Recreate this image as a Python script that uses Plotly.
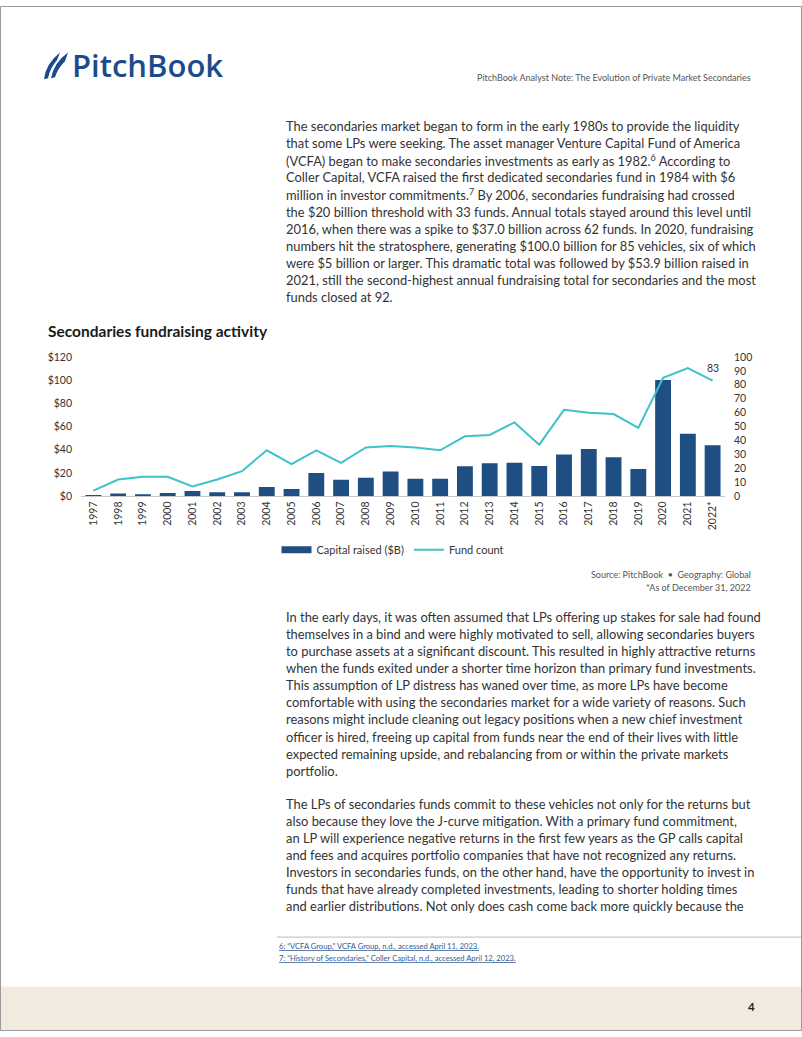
import plotly.graph_objects as go

W, H = 802, 1037

years = ["1997", "1998", "1999", "2000", "2001", "2002", "2003", "2004", "2005",
         "2006", "2007", "2008", "2009", "2010", "2011", "2012", "2013", "2014",
         "2015", "2016", "2017", "2018", "2019", "2020", "2021", "2022*"]
capital_raised = [0.6, 2.3, 1.7, 2.8, 4.5, 3.4, 3.4, 8.0, 6.2, 20.1, 14.2, 15.9,
                  21.3, 15.0, 15.0, 25.8, 28.4, 28.9, 26.1, 36.0, 40.6, 33.5,
                  23.5, 100.0, 53.9, 44.0]
fund_count = [4, 12, 14, 14, 7, 12, 18, 33, 23, 33, 24, 35, 36, 35, 33, 43, 44,
              53, 37, 62, 60, 59, 49, 85, 92, 83]

left_ticks = [0, 20, 40, 60, 80, 100, 120]
left_labels = ["$0", "$20", "$40", "$60", "$80", "$100", "$120"]
right_ticks = [0, 10, 20, 30, 40, 50, 60, 70, 80, 90, 100]

para1 = [
    "The secondaries market began to form in the early 1980s to provide the liquidity",
    "that some LPs were seeking. The asset manager Venture Capital Fund of America",
    "(VCFA) began to make secondaries investments as early as 1982.<sup>6</sup> According to",
    "Coller Capital, VCFA raised the first dedicated secondaries fund in 1984 with $6",
    "million in investor commitments.<sup>7</sup> By 2006, secondaries fundraising had crossed",
    "the $20 billion threshold with 33 funds. Annual totals stayed around this level until",
    "2016, when there was a spike to $37.0 billion across 62 funds. In 2020, fundraising",
    "numbers hit the stratosphere, generating $100.0 billion for 85 vehicles, six of which",
    "were $5 billion or larger. This dramatic total was followed by $53.9 billion raised in",
    "2021, still the second-highest annual fundraising total for secondaries and the most",
    "funds closed at 92.",
]
para2 = [
    "In the early days, it was often assumed that LPs offering up stakes for sale had found",
    "themselves in a bind and were highly motivated to sell, allowing secondaries buyers",
    "to purchase assets at a significant discount. This resulted in highly attractive returns",
    "when the funds exited under a shorter time horizon than primary fund investments.",
    "This assumption of LP distress has waned over time, as more LPs have become",
    "comfortable with using the secondaries market for a wide variety of reasons. Such",
    "reasons might include cleaning out legacy positions when a new chief investment",
    "officer is hired, freeing up capital from funds near the end of their lives with little",
    "expected remaining upside, and rebalancing from or within the private markets",
    "portfolio.",
]
para3 = [
    "The LPs of secondaries funds commit to these vehicles not only for the returns but",
    "also because they love the J-curve mitigation. With a primary fund commitment,",
    "an LP will experience negative returns in the first few years as the GP calls capital",
    "and fees and acquires portfolio companies that have not recognized any returns.",
    "Investors in secondaries funds, on the other hand, have the opportunity to invest in",
    "funds that have already completed investments, leading to shorter holding times",
    "and earlier distributions. Not only does cash come back more quickly because the",
]
footnotes = [
    "6: \u201cVCFA Group,\u201d VCFA Group, n.d., accessed April 11, 2023.",
    "7: \u201cHistory of Secondaries,\u201d Coller Capital, n.d., accessed April 12, 2023.",
]

BLUE = "#1f4e82"
TEAL = "#3fc3c6"
TXT = "#333333"
BODY_FONT = "Lato"


def px(x):
    return x / W


def py(y):
    return 1 - y / H


fig = go.Figure()
fig.add_trace(go.Bar(x=years, y=capital_raised, name="Capital raised ($B)",
                     marker=dict(color=BLUE, line=dict(width=0)), width=0.64,
                     yaxis="y", showlegend=False))
# legend-only entry so the key is drawn as a wide bar like the reference
fig.add_trace(go.Scatter(x=[None], y=[None], name="Capital raised ($B)", mode="lines",
                         line=dict(color=BLUE, width=7), yaxis="y"))
fig.add_trace(go.Scatter(x=years, y=fund_count, name="Fund count", mode="lines",
                         line=dict(color=TEAL, width=2), yaxis="y2"))

y_bottom, y_top = 496, 355
fig.update_layout(
    width=W, height=H,
    margin=dict(l=0, r=0, t=0, b=0),
    paper_bgcolor="white", plot_bgcolor="white",
    font=dict(family=BODY_FONT, color=TXT),
    showlegend=True,
    bargap=0.36,
    xaxis=dict(domain=[px(81), px(725)], type="category",
               tickangle=-90, tickfont=dict(size=10.5, color=TXT),
               showgrid=False, showline=True, linecolor="#c8c8c8", linewidth=1,
               ticks="", range=[-0.5, len(years) - 0.5], anchor="y",
               fixedrange=True),
    yaxis=dict(domain=[py(y_bottom), py(y_top)], range=[0, 120],
               tickvals=left_ticks, ticktext=left_labels,
               tickfont=dict(size=10.5, color=TXT), showgrid=False,
               zeroline=False, showline=False, ticks="", ticklabelstandoff=8),
    yaxis2=dict(domain=[py(y_bottom), py(y_top)], range=[0, 100], overlaying="y",
                side="right", anchor="x", tickvals=right_ticks,
                tickfont=dict(size=10.5, color=TXT), showgrid=False,
                zeroline=False, showline=False, ticks="", ticklabelstandoff=8),
    legend=dict(orientation="h", x=px(393), xanchor="center", y=py(550),
                yanchor="middle", font=dict(size=11, color=TXT),
                itemwidth=30, tracegroupgap=0, bgcolor="rgba(0,0,0,0)"),
)

# Annotation for last point
fig.add_annotation(x=years[-1], y=fund_count[-1], xref="x", yref="y2",
                   text=str(fund_count[-1]), showarrow=False, yshift=13,
                   font=dict(size=10.5, color=TXT, family=BODY_FONT))

anns = []


def text(x, y, s, size, color=TXT, anchor="left", family=BODY_FONT, weight=None):
    f = dict(size=size, color=color, family=family)
    if weight:
        f["weight"] = weight
    anns.append(dict(x=px(x), y=py(y), xref="paper", yref="paper", text=s,
                     showarrow=False, xanchor=anchor, yanchor="middle", font=f))


step = 17.3
for i, s in enumerate(para1):
    text(284, 121.5 + i * step, s, 12.9)
for i, s in enumerate(para2):
    text(284, 618 + i * step, s, 12.9)
for i, s in enumerate(para3):
    text(284, 807 + i * step, s, 12.9)

# header
text(70, 60, "PitchBook", 31, color="#1c4b8c", family="Open Sans", weight=600)
text(753, 72, "PitchBook Analyst Note: The Evolution of Private Market Secondaries",
     9, color="#555555", anchor="right")
# chart title
text(46, 329, "Secondaries fundraising activity", 15.5, color="#1a1a1a", weight=700)
# source
text(753, 575, "Source: PitchBook  \u2022  Geography: Global", 9, color="#555555", anchor="right")
text(753, 588, "*As of December 31, 2022", 9, color="#555555", anchor="right")
# footnotes
for i, s in enumerate(footnotes):
    text(277, 951 + i * 12, "<u>" + s + "</u>", 7.6, color="#2f5a8f")
# page number
text(751, 1012, "4", 11.5, color="#222222", anchor="center", weight=700)

fig.update_layout(annotations=list(fig.layout.annotations) + anns)

shapes = []
# footer band
shapes.append(dict(type="rect", xref="paper", yref="paper", x0=0, x1=1,
                   y0=0, y1=py(992), fillcolor="#f1eadf", line=dict(width=0),
                   layer="below"))
# footnote separator
shapes.append(dict(type="line", xref="paper", yref="paper", x0=px(277), x1=1,
                   y0=py(942), y1=py(942), line=dict(color="#bdbdbd", width=1)))
# page border
shapes.append(dict(type="rect", xref="paper", yref="paper", x0=px(0.5), x1=px(801.5),
                   y0=py(1036.5), y1=py(0.5), line=dict(color="#9a9a9a", width=1),
                   fillcolor="rgba(0,0,0,0)"))


# logo sail icon (pixel path converted to paper coords)
def path(points):
    d = ""
    for i, (cmd, pts) in enumerate(points):
        d += cmd + " " + " ".join(f"{px(a):.5f},{py(b):.5f}" for a, b in pts) + " "
    return d + "Z"


sail1 = [("M", [(44, 74)]), ("Q", [(46, 58), (60, 47)]), ("L", [(57, 55)]),
         ("Q", [(50, 63), (48, 73)])]
sail2 = [("M", [(51, 73)]), ("Q", [(54, 57), (68, 47)]), ("L", [(65, 56)]),
         ("Q", [(58, 63), (55, 72)])]
for s in (sail1, sail2):
    shapes.append(dict(type="path", xref="paper", yref="paper", path=path(s),
                       fillcolor="#1c4b8c", line=dict(width=0)))

fig.update_layout(shapes=shapes)

fig.write_html("out.html",
               config={"displayModeBar": False},
               post_script="document.body.style.margin='0';"
                           "document.documentElement.style.overflow='hidden';")
